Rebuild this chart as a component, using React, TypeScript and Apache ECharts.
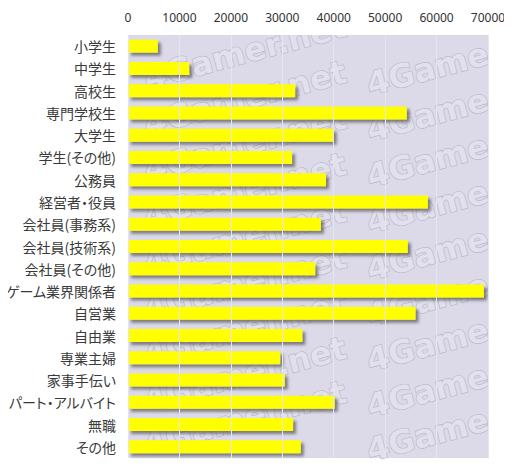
import React, { useEffect, useRef } from "react";
import * as echarts from "echarts";

const categories = [
  "小学生",
  "中学生",
  "高校生",
  "専門学校生",
  "大学生",
  "学生(その他)",
  "公務員",
  "経営者・役員",
  "会社員(事務系)",
  "会社員(技術系)",
  "会社員(その他)",
  "ゲーム業界関係者",
  "自営業",
  "自由業",
  "専業主婦",
  "家事手伝い",
  "パート・アルバイト",
  "無職",
  "その他",
];

const values = [
  5800, 11900, 32500, 54200, 40000, 31900, 38500, 58300, 37500, 54400, 36400,
  69200, 55900, 33900, 29600, 30500, 40200, 32100, 33600,
];

const xTicks = { min: 0, max: 70000, interval: 10000 };

export default function App() {
  const ref = useRef<HTMLDivElement>(null);
  useEffect(() => {
    if (!ref.current) return;
    const chart = echarts.init(ref.current, undefined, { renderer: "svg" });

    const wmStyle = {
      fill: "#e1e0ec",
      stroke: "#bab8c9",
      lineWidth: 1.4,
      font: "bold 32px 'DejaVu Sans'",
      verticalAlign: "middle",
    };
    const wm: any[] = [];
    const rowsA = [52, 98, 144, 190, 237, 283, 328, 374, 418];
    rowsA.forEach((y) => {
      wm.push({
        type: "text",
        x: 245,
        y,
        rotation: 0.26,
        z: 1,
        silent: true,
        style: { ...wmStyle, text: "4Gamer.net", align: "center" },
      });
      wm.push({
        type: "text",
        x: 488,
        y: y + 1,
        rotation: 0.26,
        z: 1,
        silent: true,
        style: { ...wmStyle, text: "4Game", align: "right" },
      });
    });
    wm.push({ type: "rect", z: 2, silent: true, shape: { x: 128, y: 0, width: 384, height: 35 }, style: { fill: "#fff" } });

    chart.setOption({
      animation: false,
      backgroundColor: "#fff",
      grid: {
        left: 128,
        right: 24,
        top: 35,
        bottom: 12,
        containLabel: false,
        outerBoundsMode: "none",
        show: true,
        backgroundColor: "#dcdae9",
        borderWidth: 0,
      },
      graphic: wm,
      xAxis: {
        type: "value",
        position: "top",
        min: xTicks.min,
        max: xTicks.max,
        interval: xTicks.interval,
        axisLine: { show: false },
        axisTick: { show: false },
        axisLabel: {
          color: "#333",
          fontSize: 12,
          fontFamily: "'Noto Sans', sans-serif",
          margin: 12,
          formatter: (v: number) => String(v),
        },
        splitLine: { show: true, lineStyle: { color: "#e6e5ef", width: 1 } },
        z: 5,
      },
      yAxis: {
        type: "category",
        data: categories,
        inverse: true,
        axisLine: { show: false },
        axisTick: { show: false },
        axisLabel: {
          color: "#3a3a3a",
          fontSize: 14,
          fontFamily: "'Noto Sans CJK JP', sans-serif",
          margin: 12,
        },
        z: 5,
      },
      series: [
        {
          type: "bar",
          data: values,
          barWidth: 13,
          z: 4,
          itemStyle: {
            color: "#ffff00",
            shadowColor: "rgba(60,60,60,0.6)",
            shadowBlur: 3,
            shadowOffsetX: 3,
            shadowOffsetY: 3,
          },
        },
      ],
    });
    return () => chart.dispose();
  }, []);
  return (
    <>
      <style>{"#root svg text{font-feature-settings:'palt' 1;}"}</style>
      <div ref={ref} style={{ width: 512, height: 470, margin: -8 }} />
    </>
  );
}
